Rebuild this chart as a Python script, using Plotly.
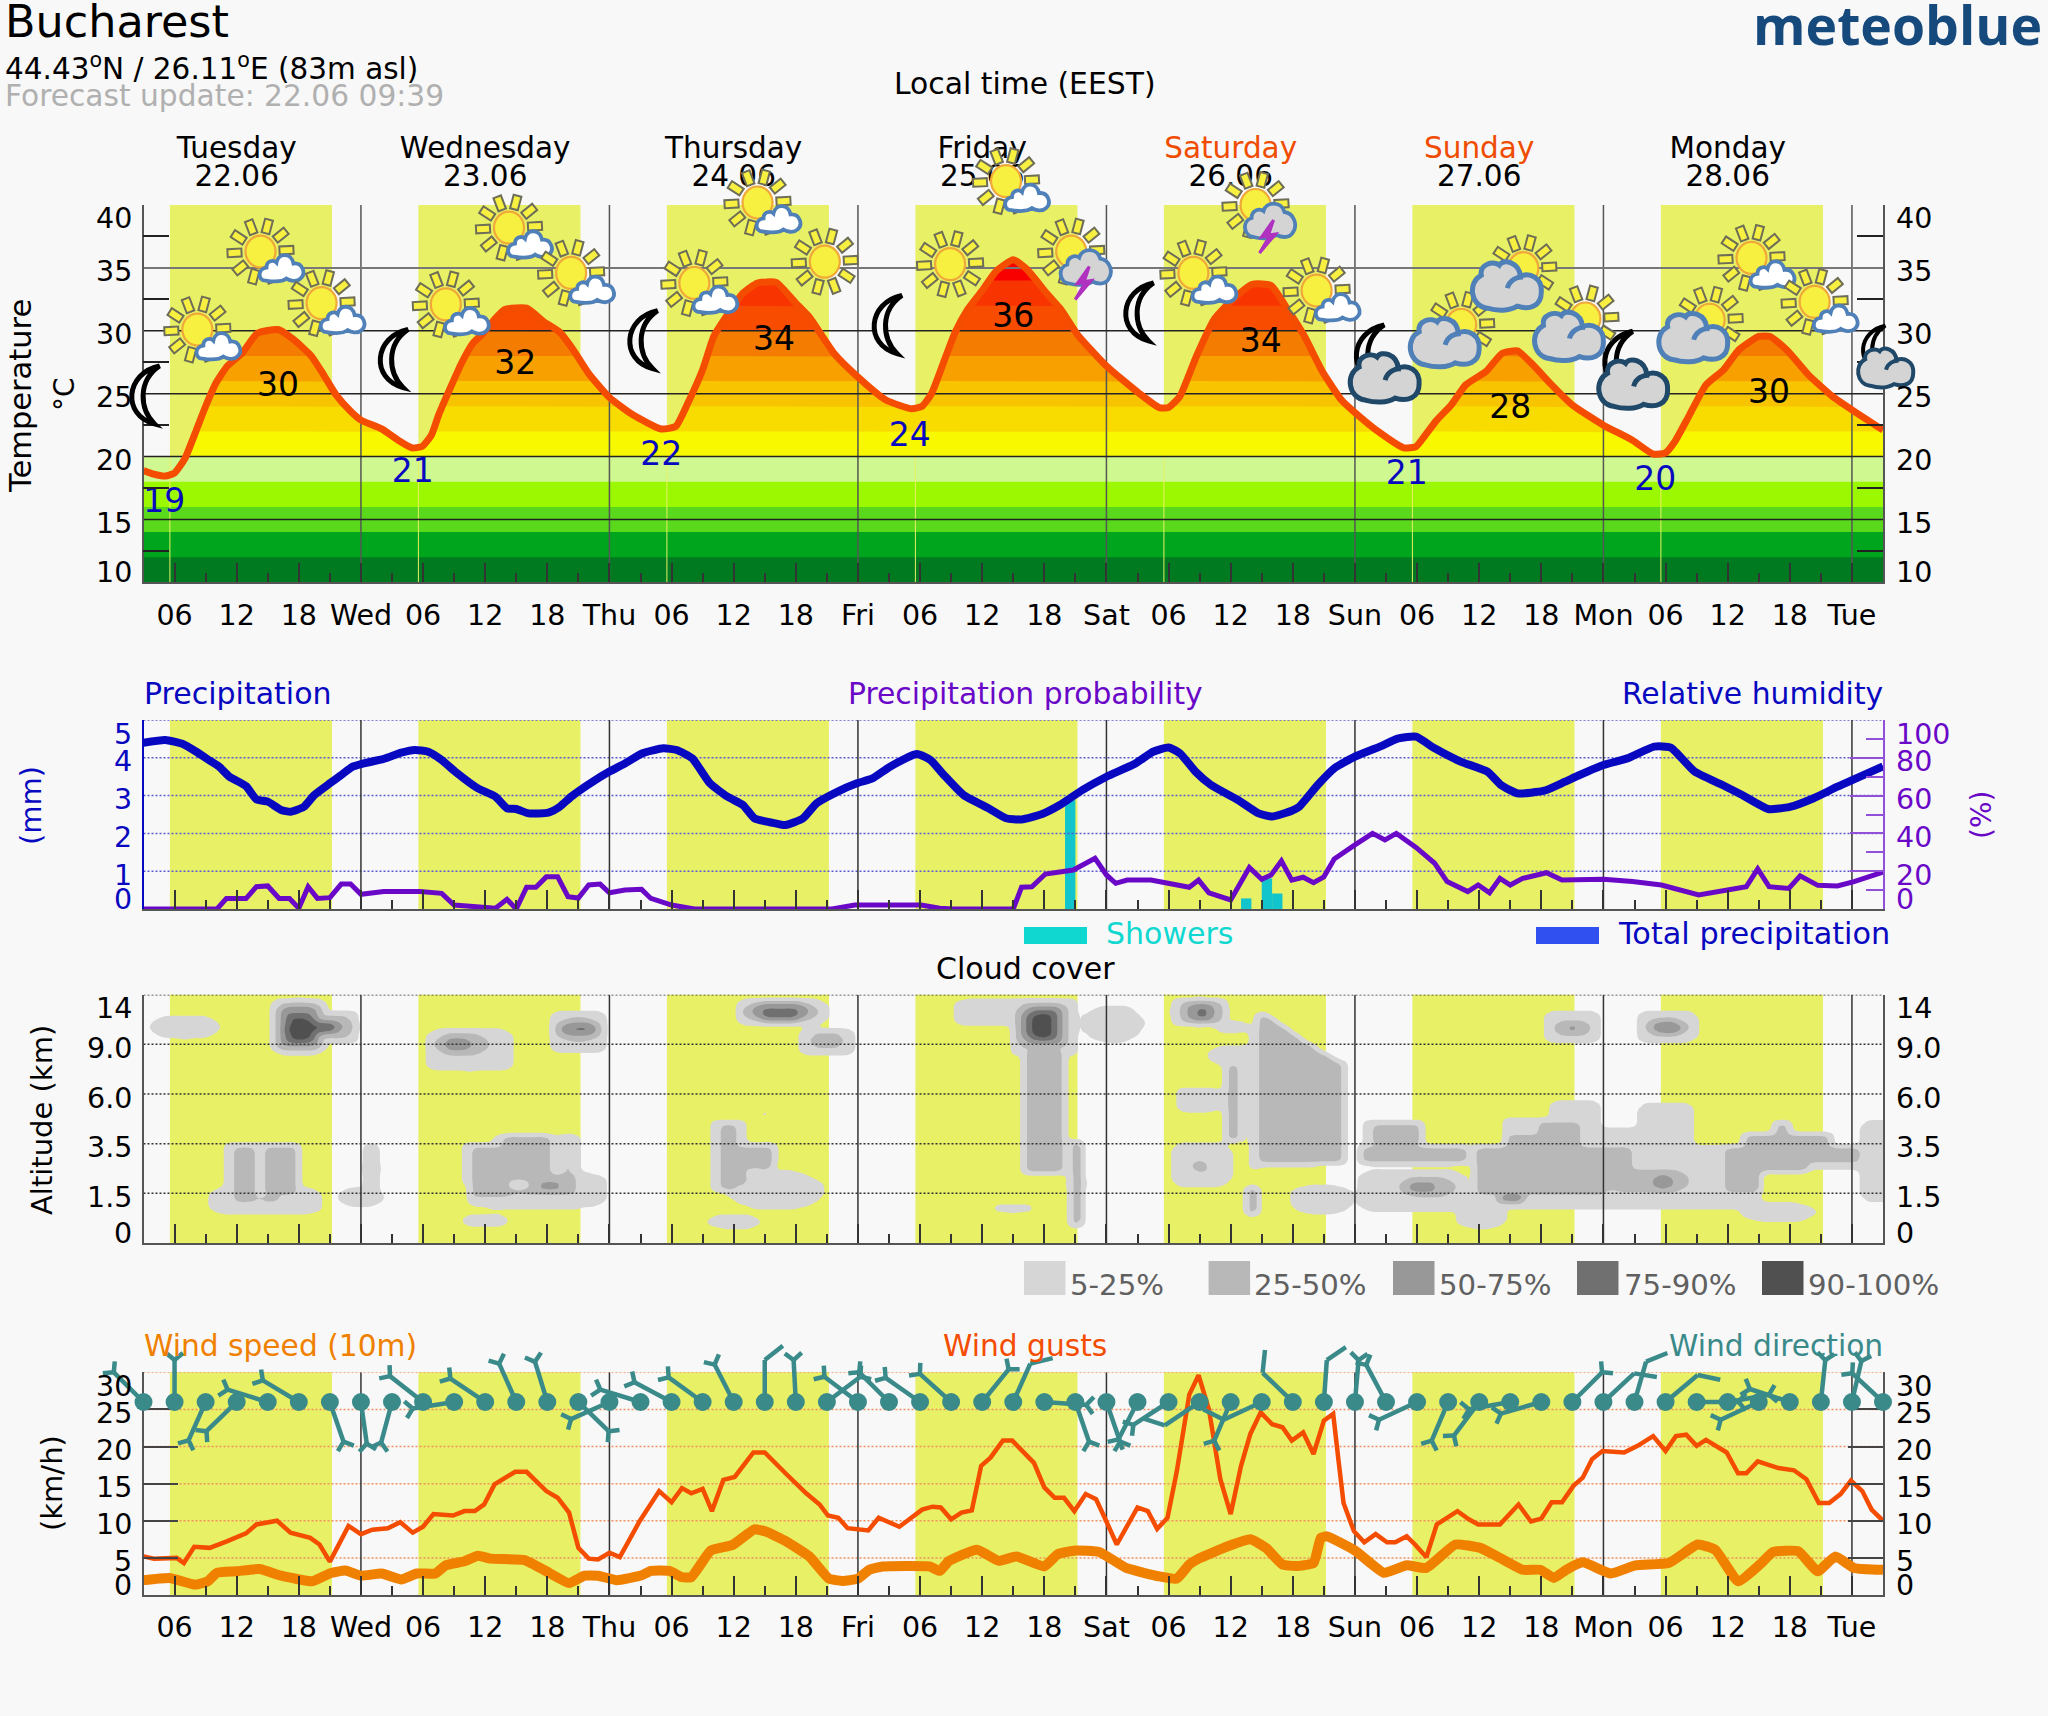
import base64
import numpy as np
import plotly.graph_objects as go

W, H = 2048, 1716
X0, X1 = 143.5, 1883.0
HOUR_MIN, HOUR_MAX = 3, 171
BG = "#f8f8f8"
DAY_YELLOW = "#e8f066"
BLUE = "#0808c0"
PURPLE = "#6a08c8"
ORANGE = "#f08000"
RED = "#f44c00"
TEAL = "#3a8a8a"
FONT = "DejaVu Sans"

SUNRISE = [5.55, 29.55, 53.55, 77.55, 101.55, 125.55, 149.55]
SUNSET = [21.2, 45.2, 69.2, 93.2, 117.2, 141.2, 165.2]
DAY_HOURS = [12, 36, 60, 84, 108, 132, 156]
DAY_NAMES = ["Tuesday", "Wednesday", "Thursday", "Friday", "Saturday", "Sunday", "Monday"]
DAY_DATES = ["22.06", "23.06", "24.06", "25.06", "26.06", "27.06", "28.06"]
DAY_COLORS = ["#000000"] * 4 + ["#f04c00", "#f04c00", "#000000"]
MIDNIGHTS = [24, 48, 72, 96, 120, 144, 168]
MIDNIGHT_NAMES = ["Wed", "Thu", "Fri", "Sat", "Sun", "Mon", "Tue"]

TEMP_H = [3,4,5.1,6,7,8.1,9,10,11.1,12.5,14,16,17.5,19.2,20.4,21.6,23,24,26,27.6,28.9,29.9,30.8,31.5,32.6,33.7,34.8,35.8,37,37.9,40,41.7,43.2,44.5,46,48,50.3,53,54.4,55.6,57,58.1,59.5,60.9,62.3,64.1,66,67.3,69.7,71.9,74.7,77.2,78.2,79.1,80.5,81.4,82.6,84,85.3,87,88.3,90.2,91.6,93.2,96,99.2,101.1,102,103.1,104.7,106.4,108.2,110.1,111.9,113.5,115.1,116.9,118.7,120,122.4,124.7,125.9,126.7,127.9,129.3,130.7,132.7,134.2,135.7,137.3,139,141,144,146.8,148.8,150,150.9,152.3,153.9,155.6,157.1,159,160.1,161.8,163.8,166.1,168.4,171]
TEMP_V = [18.9,18.6,18.45,18.7,19.85,22.1,24,25.85,27.2,28.2,29.8,30.1,29.3,28,26.5,24.9,23.6,22.9,22.2,21.3,20.7,20.8,21.7,23.3,25.4,27.4,29,29.8,31,31.7,31.8,30.7,29.9,28.5,26.6,24.7,23.3,22.2,22.4,24.3,26.9,29.6,31.4,33,33.8,33.85,32.2,31.1,28.2,26.4,24.5,23.8,24,25,28,29.9,31.7,33.2,34.7,35.65,34.9,33,31.7,29.7,27.2,25,23.9,23.9,24.8,28,30.9,32.5,33.7,33.6,31.7,29.6,26.7,24.5,23.5,21.9,20.7,20.8,21.6,22.9,24.1,25.7,26.8,28.2,28.4,27.2,25.7,24.1,22.5,21.3,20.2,20.3,21.2,23.3,25.7,26.9,28.5,29.55,29.55,28.4,26.5,24.8,23.5,22.1]
TEMP_BAND_TOPS = [36, 34, 32, 30, 28, 26, 24, 22, 20, 18, 16, 14, 12]
TEMP_BAND_COLORS = ["#f80000", "#f83400", "#f84c00", "#f47c00", "#f8a000", "#f8c400", "#f8dc00", "#f8f800", "#d0f890", "#9cf800", "#5ad81c", "#00a51e", "#007a20"]
TMAX_H = [16, 38.9, 63.9, 87, 110.9, 135, 160]
TMAX_Y = [25.45, 27.25, 29.15, 30.95, 28.95, 23.75, 24.95]
TMAX_TEXT = ["30", "32", "34", "36", "34", "28", "30"]
TMIN_H = [5, 29, 53, 77, 125, 149]
TMIN_Y = [16.25, 18.6, 19.95, 21.5, 18.45, 18.0]
TMIN_TEXT = ["19", "21", "22", "24", "21", "20"]

HUM_H = [3,5.1,6.8,8.1,9.4,10.3,11.3,12.9,13.9,15,16.3,17.2,18.5,19.5,21,22.1,23.2,24,26.2,27.9,29.2,30.5,31.8,33.1,35.3,37,38.1,39,40.2,42.1,43.2,44.3,46.4,48,49.5,51.2,53.2,54.5,56,57.7,59.4,60.9,62,63.5,65,66.7,68,70,71.9,73.4,75.1,77.7,79,80.3,82.2,84.6,86.3,87.8,89.8,91.5,93.7,96,98.8,100.5,102,103.1,104.6,106.1,108.7,110.7,112,113.9,114.6,116.4,118,120,122.4,124.2,125.9,127.7,130.2,132.8,134.1,135.7,138.3,140.3,141.7,144,146.3,148.9,150.5,152.8,155.5,157.4,159.9,162,164.3,166.6,171]
HUM_V = [88,89.4,87.3,83.2,78.5,75.3,70,65,58,56.8,52.4,51.5,54.1,60.3,66.5,70.9,75.3,76.7,79.4,82.7,84.1,83.2,78.8,72.7,63.8,59.4,53.3,52.9,50.6,51,54.1,59.4,67.4,72.7,77,82.4,85,84.1,79.7,66.5,59.4,55,48,45.9,44.4,48,55.9,62,66.5,69.1,75.3,82,78.8,70.9,60.3,53.3,48,47.4,50.3,55,63,70,77,83.2,85.5,82.4,72.7,65.6,57.7,50.6,48.9,52,54,65.6,74.4,80.6,85.9,90.3,91.2,85,78,72.7,65.6,61.2,62.6,67.4,70.9,76.2,79.7,85.9,85.4,72.7,65.6,60.3,52.9,54,58.6,64.7,75.5]

PROB_H = [3,10.1,11,12.9,13.9,15,16.1,17.1,18,18.9,19.8,21,22.1,23,24,26.2,29.7,31.8,33,35.9,37,38.1,39,40,40.9,41.9,43,44,45,46,47.1,48,49.5,51.1,52,54,56.2,69.5,71.7,78.1,79.9,81.2,87,87.8,88.8,90.1,92.8,94.9,96,96.9,98,100.3,101.8,104,104.9,105.9,108,109.8,111,111.9,112.9,113.9,115,116,117,118,120,121.7,122.9,124,125.9,127.7,128.9,130.9,131.9,133,134,135,136.2,138.5,140,144,146.8,149.6,153.2,156,157.8,158.9,160,161.9,163,164.7,166.6,168.2,171]
PROB_V = [0,0,5.5,5.5,11.8,12.2,5.6,5.6,0.4,11.8,5.6,6,13.2,13.2,7.8,9.3,9.3,8.3,2.1,0.9,0.4,5.1,0,11.5,11.5,17,17,6.5,5.8,12.7,13.2,8.6,10,10.4,5.6,2.1,0,0,2.1,2.1,0.4,0,0,11.5,11.8,18.5,20.6,26.8,18,13.6,15.3,15.3,14,11.5,15.3,8.6,4.8,22,15.7,18,25.4,15.3,16.8,13.9,17,26.5,33.9,40,36.5,40,32.6,24.2,14.5,9.2,12.7,8.6,16.2,12.7,16.2,19.2,15.3,15.7,14.5,12.7,7.4,10.4,11.8,21.2,11.8,10.9,17.5,12.5,12.2,14.5,19.5]

SHOWER_H = [92.5, 109.5, 111.5, 112.5]
SHOWER_MM = [2.88, 0.28, 0.81, 0.41]

ALT_LABELS = ["0", "1.5", "3.5", "6.0", "9.0", "14"]
CLOUD_LEGEND = ["5-25%", "25-50%", "50-75%", "75-90%", "90-100%"]
CLOUD_COLORS = ["#d6d6d6", "#b8b8b8", "#989898", "#707070", "#505050"]
# shape, class, hour from, hour to, level from, level to (levels are the six equally spaced altitudes)
CLOUD_BLOBS = [
 ("O",1,3.5,10.5,4.1,4.6),
 ("S",1,15,21,3.77,4.95),("S",1,20,24,4,4.7),("S",2,15.7,20.4,3.85,4.84),("O",2,19,23.4,4.1,4.6),
 ("S",3,16,20,3.95,4.76),("O",3,18,22.3,4.2,4.5),("S",4,16.6,19.6,4,4.63),("O",4,18,21.6,4.25,4.45),
 ("O",5,16.9,19.5,4.06,4.55),("O",5,18,21.5,4.28,4.4),
 ("S",1,9.2,20.4,0.56,1.13),("B",1,11,18,1,2),("B",2,11.6,13.5,0.83,1.94),("B",2,14.6,17.5,1,1.94),("O",2,13.7,16.5,0.83,0.95),
 ("S",1,24,26,1,2),("B",2,24.6,25.4,1,1.94),("O",1,21.5,26.5,0.72,1.13),
 ("S",1,30,39,3.45,4.33),("O",2,31,36.5,3.75,4.25),("O",3,32,34.8,3.85,4.15),
 ("S",1,42,48,3.82,4.69),("O",2,42.7,47.3,4.05,4.55),("O",3,43.4,46.7,4.15,4.45),("O",4,44,46.3,4.28,4.4),
 ("S",1,34,47.8,0.68,1.44),("B",1,34,45,1.2,2),("B",1,37,45,1.9,2.2),("B",2,34.6,38.5,0.93,1.94),("B",2,37.6,42.5,1.07,2.17),
 ("B",2,38.5,44.8,1,1.4),("B",2,43.6,44.5,1.3,2.17),("O",3,41.3,43.2,1.05,1.25),("O",1,33.5,38.5,0.31,0.58),
 ("S",1,60,69.1,4.35,4.94),("O",2,60.8,68.1,4.42,4.88),("O",3,61.5,67.5,4.47,4.85),("B",4,62.6,66.4,4.55,4.72),
 ("S",1,66,72,3.78,4.33),("O",2,67.3,70.7,3.92,4.23),("O",1,62.2,63.8,2.55,2.66),
 ("B",1,58,61,1.02,2.46),("B",1,61,64,1.6,2),("B",2,58.6,60.4,1.06,2.39),("B",2,60.4,63.5,1.47,1.92),("B",2,58.6,61.2,1.2,1.47),
 ("O",1,59.3,68.8,0.66,1.47),("O",1,57.4,62.7,0.27,0.59),
 ("S",1,81,93,4.35,4.94),("B",1,87,93,3.8,4.94),("B",1,88,92,1.38,3.9),("B",2,88.5,91.5,1.42,3.9),
 ("S",2,87.3,92.4,3.9,4.85),("S",3,87.9,91.9,4,4.76),("S",4,88.4,91.4,4.08,4.7),("S",5,88.8,91,4.13,4.62),
 ("S",1,92,94,0.3,2.1),("B",2,92.6,93.5,0.37,2),("O",1,85,89,0.6,0.8),
 ("O",1,93.6,99.6,4.03,4.8),("O",2,95.4,97.2,4.28,4.4),
 ("S",1,102,108,4.35,4.95),("S",2,103,107.2,4.42,4.88),("S",3,103.8,106.5,4.48,4.82),("B",4,104.6,105.6,4.55,4.72),
 ("O",1,106.4,109.9,4.2,4.5),("O",1,105.8,110.6,3.55,4),("B",1,107.2,109.1,2.04,3.68),("B",2,107.6,108.6,2.1,3.56),
 ("S",1,102.5,107.3,2.64,3.13),("S",1,102.2,108.1,1.1,2.04),("O",2,104.4,105.7,1.4,1.67),
 ("O",1,109,111,0.53,1.19),("B",2,109.6,110.6,0.6,1.13),
 ("O",1,113.5,120,0.56,1.2),("S",1,120.2,130.9,0.6,1.5),("O",2,124.1,130,0.92,1.34),("B",3,125.5,127.7,1.03,1.21),
 ("B",1,120.2,131.2,1.57,1.97),("B",1,121,126.5,1.97,2.48),("B",2,120.7,130.6,1.64,1.94),("B",2,121.7,126.5,1.97,2.4),
 ("S",1,120,159,0.66,1.0),("B",1,131.5,144,0.66,1.97),("B",1,134.4,143.8,1.97,2.54),("S",1,138.6,143.8,2.4,2.87),
 ("B",2,131.7,141.5,1.4,1.94),("B",2,131.7,140,1,1.4),("B",2,134.8,141.5,1.94,2.17),("B",2,137.7,141.5,2.17,2.41),
 ("B",2,139.6,144.1,1,1.94),("B",2,142.5,146.7,1.4,1.94),("S",2,144.1,152.2,1.03,1.47),
 ("O",3,133.8,136.4,0.81,0.98),("O",4,134.3,136,0.86,0.94),("O",3,148.8,151,1.08,1.37),
 ("B",1,144,155.7,0.7,1.97),("B",1,144,152.8,1.9,2.34),("S",1,147.4,152.8,2.2,2.85),
 ("O",1,129.6,134.8,0.28,0.73),("O",1,157.2,164.6,0.41,0.83),
 ("B",1,155.7,159,0.7,1.97),("B",1,155.7,171,1.5,1.97),("B",1,157.2,166,1.97,2.24),("B",1,160.3,162.2,2.2,2.48),
 ("B",2,155.7,168.7,1.64,1.94),("B",2,155.7,163.5,1.44,1.64),("B",2,155.7,159,1.03,1.44),("B",2,157.7,165.6,1.94,2.17),("B",2,160.6,161.6,2.1,2.37),
 ("S",1,168.7,172,0.8,2.5),
 ("S",1,138,144,4.02,4.69),("O",2,139.3,142.8,4.15,4.5),("O",3,140.3,142,4.28,4.38),
 ("S",1,147.2,153.2,4.02,4.69),("O",2,148,152.2,4.15,4.55),("O",3,148.8,151.6,4.22,4.46),("O",4,149.3,151,4.29,4.38),
]
# outlines of the slanted cloud decks: class, hours, levels
CLOUD_POLYS = [
 (1,[109.7,109.7,110.1,111,113,117,119.2,119.2,111],[1.5,3.6,4.6,4.7,4.4,3.8,3.65,1.58,1.5]),
 (2,[110.7,110.7,111.4,118.6,118.6],[1.64,4.6,4.6,3.6,1.64]),
]
# the small clear pocket in Wednesday's low cloud
CLOUD_GAPS = [(1,38.5,40.2,1.07,1.27)]

WIND_H = [3,6,9,12,15,18,21,24,27,30,33,36,39,42,45,48,51,54,57,60,63,66,69,72,75,78,81,84,87,90,93,96,99,102,105,108,111,114,117,120,123,126,129,132,135,138,141,144,147,150,153,156,159,162,165,168,171]
WIND_DIR = [315,0,204,226,287,301,161,172,195,308,261,304,336,343,134,246,287,298,306,333,0,357,53,307,315,305,312,39,24,94,161,161,207,237,236,203,245,314,4,5,332,245,203,217,260,254,45,47,16,50,90,80,245,288,6,13,313]
WIND_STRONG = [63,87,105,111,114,117,144,147,150]
WIND_SPEED_H = [3,5.5,8,9.2,10.1,12,14.2,16.3,19.3,21,22.5,24,26,27.9,29.4,31.2,32.2,34,35.3,36.5,39.8,41.9,44.1,45.6,46.9,48.7,51.1,52,53.8,55,55.9,57.8,59.9,62,63.1,65.1,67.3,69.2,70.5,72,73.1,74.4,78.9,79.9,80.8,83.5,85.6,87.3,90,91.3,93,95.3,97.9,101.1,102.8,104,104.9,107.8,109.9,111.4,113,114.3,116,116.7,117.3,120,122.8,125,126.9,129.7,132.1,134,136.2,137.9,139.2,140.4,142,144.7,147.1,150.3,153.1,154.8,157,159.1,160.4,162.8,164.7,166.4,168.2,171]
WIND_SPEED_V = [2,2.3,1.4,1.85,3,3.2,3.5,2.6,1.85,2.9,3.3,2.6,2.9,2.1,2.9,2.9,4,4.55,5.3,4.9,4.7,3.2,1.6,2.6,2.6,2,2.65,3.25,3.25,2.4,2.4,6,6.75,8.85,8.55,7.2,5.2,2.2,1.9,2.2,3.4,3.85,3.85,3.25,4.6,6.1,4.6,5.2,3.85,5.5,6,5.8,3.65,2.5,2.2,4.1,4.9,6.6,7.5,6.35,4.1,3.9,4.3,7.7,7.9,6,3,4,3.65,6.8,6.35,5,3.4,3.4,2.3,3.4,4.4,2.9,4,4.3,6.8,6.1,1.85,4.1,5.8,5.9,3.2,5.2,3.65,3.4]
GUST_H = [3,4,6.2,6.9,7.9,9.4,11.1,12.9,13.9,15.9,17.2,19.1,20,21,22.8,24,25.1,26.6,27.8,29,30,31,32.9,34,35,35.9,36.9,37.8,38.9,40,41.9,43,44.1,45,46,46.9,48,49,50.9,52.8,54,55,55.9,57,57.9,59,60.1,61.9,63,65,67,68.3,69.1,70.1,71,73,74,76,78.2,79.2,80,81,82,83,83.9,84.8,86,86.9,89,90,91,91.9,92.9,94,95,95.9,97,99,100,100.9,101.9,102.8,104,104.9,105.9,107,108,109,109.9,110.9,112,113,113.9,115,116,117,117.9,118.4,118.9,119.9,120.9,122,123.1,123.9,125,125.8,126.9,127.9,129.9,131,131.9,134,135.8,137,138,139,140,141.1,142,142.9,143.9,146,147.3,148.8,150,151,152,153,153.9,155.9,157,157.8,158.9,160.9,162.4,163.6,164.8,165.8,166.9,167.9,169,169.9,171]
GUST_V = [5.2,4.9,5,4.3,6.5,6.35,7.25,8.3,9.5,10,8.4,7.7,6.8,4.5,9.3,8.2,8.8,9,9.8,8.4,9.2,10.9,10.7,11.3,11.3,12.2,14.9,15.6,16.6,16.6,14,13.1,11.1,6.35,4.9,4.8,5.7,5.1,9.9,14,12.5,14.4,13.7,14.3,11.3,15.5,15.9,19.2,19.2,16.4,13.7,12.2,10.7,10.4,9,8.7,10.4,9.2,11.5,11.9,11.8,10.2,11.1,11.4,17.4,18.5,20.8,20.8,17.8,14.5,13.1,13.1,11.3,13.6,12.9,10.2,6.8,11.8,11.3,8.9,10.4,16.7,27,29.6,25,15.6,10.9,17.4,21.7,24.6,23,22.6,20.8,21.9,19,23.5,24.4,18.3,12.4,8.6,7.1,8.2,7.1,7.1,7.9,6.8,5.1,9.5,11.3,10.2,9.5,9.5,12.2,9.9,10.3,12.5,12.5,14.7,15.8,18.3,19.4,19.2,20.1,21.4,19.4,21.4,21.6,20.1,20.9,19.2,16.4,16.4,18,17.1,16.8,15.6,12.4,12.4,13.6,15.4,14,11.5,10]

ICON_SUNCLOUD = [(8.2,30.1),(14.3,36.3),(20.2,32.2),(32.2,32.1),(38.3,38.2),(44.3,34.6),(56.2,33.8),(62.3,40.2),(86.3,41.9),(104.4,34.6),(116.3,33.2),(158.3,35.8),(164.4,32.3)]
ICON_SUN = [(68.8,35.5),(80.9,35.3)]
ICON_STORM = [(92.6,36.3),(110.4,40)]
ICON_MOON = [(3,24.9),(27,27.8),(51.1,29.3),(74.7,30.5),(99,31.5)]
ICON_MOONCLOUD = [(123.3,27.2),(147.3,26.7)]
ICON_MOONCLOUD_SMALL = [(171.6,27.8)]
ICON_OVERCAST = [(129.1,30),(135.1,34.5),(141.1,30.5),(153.1,30.4)]

P_TEMP = (205.0, 582.4)
P_RAIN = (720.0, 909.0)
P_CLOUD = (994.7, 1243.0)
P_WIND = (1372.3, 1595.0)
P_DAYS = (130.0, 200.0)
P_BARBS = (1320.0, 1480.0)
BARB_X = (100.0, 1930.0)


def fy(px):
    return 1 - px / H


def fx(px):
    return px / W


def dom(p):
    return [fy(p[1]), fy(p[0])]


HOUR_PX = (X1 - X0) / (HOUR_MAX - HOUR_MIN)
TEMP_PX = (P_TEMP[1] - P_TEMP[0]) / 30
WIND_PX = (P_WIND[1] - P_WIND[0]) / 30


def note(x, y, text, size=29, color="#000000", xa="center", ya="middle", xref="paper", yref="paper", angle=0, yshift=0, family=FONT):
    return dict(x=x, y=y, text=text, xref=xref, yref=yref, xanchor=xa, yanchor=ya, showarrow=False, textangle=angle,
                yshift=yshift, borderpad=0, borderwidth=0, font=dict(family=family, size=size, color=color))


def hlines(levels):
    xs, ys = [], []
    for v in levels:
        xs += [HOUR_MIN, HOUR_MAX, None]
        ys += [v, v, None]
    return xs, ys


def vlines(hours, lo, hi):
    xs, ys = [], []
    for h in hours:
        xs += [h, h, None]
        ys += [lo, hi, None]
    return xs, ys


fig = go.Figure()


def line(x, y, xa, ya, color, width, dash=None, clip=True, smooth=None):
    style = dict(color=color, width=width, dash=dash)
    if smooth:
        style.update(shape="spline", smoothing=smooth)
    fig.add_trace(go.Scatter(x=x, y=y, xaxis=xa, yaxis=ya, mode="lines", hoverinfo="skip", showlegend=False, cliponaxis=clip, line=style))


# ---- temperature
dense_h = np.arange(HOUR_MIN, HOUR_MAX + 0.01, 0.1)
dense_t = np.interp(dense_h, TEMP_H, TEMP_V)
for top, col in zip(TEMP_BAND_TOPS, TEMP_BAND_COLORS):
    y = np.full_like(dense_h, top, dtype=float) if top <= 20 else np.minimum(dense_t, top)
    fig.add_trace(go.Scatter(x=dense_h, y=y, xaxis="x", yaxis="y", mode="lines", fill="tozeroy", fillcolor=col, hoverinfo="skip",
                             showlegend=False, line=dict(width=0)))
x_, y_ = vlines(SUNRISE, 10, 20)
line(x_, y_, "x", "y", "#e8f066", 1)
x_, y_ = vlines(MIDNIGHTS, 10, 40)
line(x_, y_, "x", "y", "#555555", 1.5)
x_, y_ = hlines([15, 20, 25, 30])
line(x_, y_, "x", "y", "#222222", 1.5)
x_, y_ = hlines([35])
line(x_, y_, "x", "y", "#777777", 2)
line(TEMP_H, TEMP_V, "x", "y", RED, 7, smooth=0.5)
fig.add_trace(go.Scatter(x=TMAX_H, y=TMAX_Y, text=TMAX_TEXT, xaxis="x", yaxis="y", mode="text", hoverinfo="skip", showlegend=False,
                         textfont=dict(family=FONT, size=33, color="#000000")))
fig.add_trace(go.Scatter(x=TMIN_H, y=TMIN_Y, text=TMIN_TEXT, xaxis="x", yaxis="y", mode="text", hoverinfo="skip", showlegend=False,
                         textfont=dict(family=FONT, size=33, color=BLUE)))
row1 = (P_DAYS[1] - 151) / (P_DAYS[1] - P_DAYS[0])
row2 = (P_DAYS[1] - 179) / (P_DAYS[1] - P_DAYS[0])
fig.add_trace(go.Scatter(x=DAY_HOURS, y=[row1] * 7, text=DAY_NAMES, xaxis="x", yaxis="y6", mode="text", hoverinfo="skip", showlegend=False,
                         textfont=dict(family=FONT, size=29.5, color=DAY_COLORS)))
fig.add_trace(go.Scatter(x=DAY_HOURS, y=[row2] * 7, text=DAY_DATES, xaxis="x", yaxis="y6", mode="text", hoverinfo="skip", showlegend=False,
                         textfont=dict(family=FONT, size=29.5, color="#000000")))

# ---- precipitation
fig.add_trace(go.Bar(x=SHOWER_H, y=SHOWER_MM, width=1, xaxis="x2", yaxis="y2", marker=dict(color="#12c4cc", line=dict(width=0)), hoverinfo="skip", showlegend=False))
x_, y_ = hlines([1, 2, 3, 4, 5])
line(x_, y_, "x2", "y2", "#5a5ad0", 1.5, "2px,2px", clip=False)
x_, y_ = vlines(MIDNIGHTS, 0, 5)
line(x_, y_, "x2", "y2", "#333333", 1.5)
line(PROB_H, PROB_V, "x2", "y3", PURPLE, 5, clip=False)
line(HUM_H, HUM_V, "x2", "y3", BLUE, 8, clip=False, smooth=0.5)

# ---- clouds
cl_h = np.arange(HOUR_MIN, HOUR_MAX + 0.01, 0.5)
cl_l = np.arange(0, 5.001, 0.05)
HH, LL = np.meshgrid(cl_h, cl_l)
cloud = np.zeros_like(HH)
for kind, c, h0, h1, l0, l1 in CLOUD_BLOBS:
    u = (HH - (h0 + h1) / 2) / ((h1 - h0) / 2)
    v = (LL - (l0 + l1) / 2) / ((l1 - l0) / 2)
    if kind == "B":
        mask = (np.abs(u) <= 1) & (np.abs(v) <= 1)
    elif kind == "S":
        mask = u ** 4 + v ** 4 <= 1
    else:
        mask = u ** 2 + v ** 2 <= 1
    cloud[mask] = np.maximum(cloud[mask], c)
for c, ph, pl in CLOUD_POLYS:
    inside = np.zeros_like(HH, dtype=bool)
    n = len(ph)
    for i in range(n):
        a, b = (ph[i], pl[i]), (ph[(i + 1) % n], pl[(i + 1) % n])
        if a[1] == b[1]:
            continue
        cross = (a[1] > LL) != (b[1] > LL)
        xc = a[0] + (LL - a[1]) * (b[0] - a[0]) / (b[1] - a[1])
        inside ^= cross & (HH < xc)
    cloud[inside] = np.maximum(cloud[inside], c)
for c, h0, h1, l0, l1 in CLOUD_GAPS:
    cloud[(HH >= h0) & (HH <= h1) & (LL >= l0) & (LL <= l1)] = c


# soften the painted outlines so that corners round off as the contours of the original do
def soften(z, kernel, axis):
    kernel = np.array(kernel, dtype=float) / sum(kernel)
    pad = len(kernel) // 2
    widths = [(pad, pad) if a == axis else (0, 0) for a in range(2)]
    return np.apply_along_axis(lambda m: np.convolve(m, kernel, mode="valid"), axis, np.pad(z, widths, mode="edge"))


cloud = soften(soften(cloud, [1, 2, 1], 1), [1, 2, 3, 2, 1], 0)
fig.add_trace(go.Contour(x=cl_h, y=cl_l, z=np.round(cloud, 2).tolist(), xaxis="x3", yaxis="y4", showscale=False, hoverinfo="skip",
                         autocontour=False, contours=dict(start=0.5, end=4.5, size=1, coloring="fill", showlines=False),
                         line=dict(width=0),
                         colorscale=[[0, "rgba(248,248,248,0)"]] + [[(i + 1) / 5, c] for i, c in enumerate(CLOUD_COLORS)]))
x_, y_ = hlines([1, 2, 3, 4, 5])
line(x_, y_, "x3", "y4", "#333333", 1.5, "2px,2px", clip=False)
x_, y_ = vlines(MIDNIGHTS, 0, 5)
line(x_, y_, "x3", "y4", "#333333", 1.5)

# ---- wind
x_, y_ = hlines([5, 10, 15, 20, 25, 30])
line(x_, y_, "x4", "y5", "#f09060", 1.5, "2px,2px")
x_, y_ = vlines(MIDNIGHTS, 0, 30)
line(x_, y_, "x4", "y5", "#333333", 1.5)
line(WIND_SPEED_H, WIND_SPEED_V, "x4", "y5", ORANGE, 10, smooth=0.4)
line(GUST_H, GUST_V, "x4", "y5", RED, 4.5)
WIND_DOT = 26
STAFF, PRONG, HOOK = 42, 11, 23
bx, by = [], []
for h, d in zip(WIND_H, WIND_DIR):
    rad = np.radians(d)
    tx = h + STAFF * np.sin(rad) / HOUR_PX
    ty = WIND_DOT + STAFF * np.cos(rad) / WIND_PX
    bx += [h, tx, None]
    by += [WIND_DOT, ty, None]
    if h in WIND_STRONG:
        a = np.radians(d + 52)
        bx += [tx, tx + HOOK * np.sin(a) / HOUR_PX, None]
        by += [ty, ty + HOOK * np.cos(a) / WIND_PX, None]
    else:
        for off in (-50, 50):
            a = np.radians(d + off)
            bx += [tx, tx + PRONG * np.sin(a) / HOUR_PX, None]
            by += [ty, ty + PRONG * np.cos(a) / WIND_PX, None]
line(bx, by, "x5", "y7", TEAL, 4.5)
fig.add_trace(go.Scatter(x=WIND_H, y=[WIND_DOT] * len(WIND_H), xaxis="x5", yaxis="y7", mode="markers", hoverinfo="skip", showlegend=False,
                         marker=dict(size=18, color=TEAL, line=dict(width=0))))


# ---- axes
def xaxis(anchor, labels):
    major = [h for h in range(6, 169, 6)]
    text = []
    for h in major:
        text.append(MIDNIGHT_NAMES[h // 24 - 1] if h % 24 == 0 else f"{h % 24:02d}")
    return dict(domain=[fx(X0), fx(X1)], range=[HOUR_MIN, HOUR_MAX], anchor=anchor, showgrid=False, zeroline=False, fixedrange=True,
                tickmode="array", tickvals=major, ticktext=text, showticklabels=labels, ticks="inside", ticklen=19, tickwidth=1.5, tickcolor="#333333",
                minor=dict(tickmode="array", tickvals=list(range(3, 169, 6)), ticks="inside", ticklen=9, tickwidth=1.5, tickcolor="#333333", showgrid=False),
                tickfont=dict(family=FONT, size=28.5, color="#000000"), ticklabelstandoff=6, tickangle=0,
                showline=True, linecolor="#555555", linewidth=2)


def yaxis(p, rng, **kw):
    d = dict(domain=dom(p), range=rng, anchor=kw.pop("anchor"), showgrid=False, zeroline=False, fixedrange=True, showticklabels=False, ticks="",
             showline=True, linecolor="#555555", linewidth=1.5)
    d.update(kw)
    return d


shapes = []
for panel, yr in ((P_TEMP, "y"), (P_RAIN, "y2"), (P_CLOUD, "y4"), (P_WIND, "y5")):
    xr = {"y": "x", "y2": "x2", "y4": "x3", "y5": "x4"}[yr]
    for a, b in zip(SUNRISE, SUNSET):
        shapes.append(dict(type="rect", xref=xr, yref=f"{yr} domain", x0=a, x1=b, y0=0, y1=1, fillcolor=DAY_YELLOW, line=dict(width=0), layer="below"))


def swatch(x0, x1, y0, y1, color):
    shapes.append(dict(type="rect", xref="paper", yref="paper", x0=fx(x0), x1=fx(x1), y0=fy(y1), y1=fy(y0), fillcolor=color, line=dict(width=0)))


swatch(1024, 1087, 927, 944, "#10d8d0")
swatch(1536, 1599, 927, 944, "#3050f0")
CLOUD_SWATCH_X = [1024, 1208.6, 1393, 1577, 1762]
CLOUD_TEXT_X = [1070, 1254, 1439, 1624, 1807.5]
for x0, col in zip(CLOUD_SWATCH_X, CLOUD_COLORS):
    swatch(x0, x0 + 41.5, 1261, 1295, col)

ann = [
    note(fx(5), fy(22), "Bucharest", 44.5, xa="left"),
    note(fx(5), fy(67), "44.43<sup>o</sup>N / 26.11<sup>o</sup>E (83m asl)", 29.5, xa="left"),
    note(fx(5), fy(96), "Forecast update: 22.06 09:39", 29.7, "#b0b0b0", xa="left"),
    note(fx(1025), fy(83), "Local time (EEST)", 29.8),
    note(fx(2042), fy(25), "<b>meteoblue</b>", 53.5, "#174a7c", xa="right", family="Open Sans"),
    note(fx(20), fy(396), "Temperature", 30.5, angle=-90),
    note(fx(64), fy(394), "°C", 28, angle=-90),
    note(fx(31), fy(806), "(mm)", 29, BLUE, angle=-90),
    note(fx(1981), fy(815), "(%)", 28, PURPLE, angle=-90),
    note(fx(42), fy(1120), "Altitude (km)", 29, angle=-90),
    note(fx(52), fy(1483), "(km/h)", 29, angle=-90),
    note(fx(144), fy(693), "Precipitation", 30, BLUE, xa="left"),
    note(fx(1025), fy(693), "Precipitation probability", 29.8, PURPLE),
    note(fx(1883), fy(693), "Relative humidity", 29.8, BLUE, xa="right"),
    note(fx(1106), fy(933), "Showers", 30, "#10d8d0", xa="left"),
    note(fx(1618), fy(933), "Total precipitation", 30.3, BLUE, xa="left"),
    note(fx(1025), fy(968), "Cloud cover", 30),
    note(fx(144), fy(1345), "Wind speed (10m)", 29.7, ORANGE, xa="left"),
    note(fx(1025), fy(1345), "Wind gusts", 29.7, RED),
    note(fx(1883), fy(1345), "Wind direction", 29.7, TEAL, xa="right"),
]
for x0, t in zip(CLOUD_TEXT_X, CLOUD_LEGEND):
    ann.append(note(fx(x0), fy(1285), t, 29.2, "#606060", xa="left"))


def ylabels(yref, vals, texts, color="#000000", side="both", color_r=None):
    n = len(vals)
    for i, (v, t) in enumerate(zip(vals, texts)):
        s = 10 if i == 0 else (-14 if i == n - 1 else -4)
        if side in ("both", "left"):
            ann.append(note(fx(132), v, t, 28.5, color, xa="right", yref=yref, yshift=s))
        if side in ("both", "right"):
            ann.append(note(fx(1896), v, t, 28.5, color_r or color, xa="left", yref=yref, yshift=s))


ylabels("y", [10, 15, 20, 25, 30, 35, 40], ["10", "15", "20", "25", "30", "35", "40"])
ylabels("y2", [0, 1, 2, 3, 4, 5], ["0", "1", "2", "3", "4", "5"], BLUE, "left")
ylabels("y3", [0, 20, 40, 60, 80, 100], ["0", "20", "40", "60", "80", "100"], PURPLE, "right")
ylabels("y4", [0, 1, 2, 3, 4, 5], ALT_LABELS)
ylabels("y5", [0, 5, 10, 15, 20, 25, 30], ["0", "5", "10", "15", "20", "25", "30"])


# ---- weather icons
def rays(r0=19, r1=33):
    out = ""
    for i in range(10):
        ang = 15 + 36 * i
        out += f'<rect x="-4" y="{-r1}" width="8" height="{r1 - r0}" transform="rotate({ang})" fill="#f8f040" stroke="#6e6e58" stroke-width="2"/>'
    return out


SUN = rays() + '<ellipse cx="0" cy="0" rx="15" ry="16" fill="#f8f040" stroke="#f0a838" stroke-width="2.2"/>'
SMALL_CLOUD = '<path d="M5,29 C-3,29 -3,17 6,16 C6,9 13,8 16,11 C18,1 31,1 33,12 C42,11 46,22 40,27 C36,31 29,29 26,27 C21,31 11,30 5,29 Z" fill="#ffffff" stroke="#5080b8" stroke-width="3.8"/>'
STORM_CLOUD = '<path d="M-2,32 C-12,31 -14,16 -4,13 C-4,5 4,3 8,6 C11,-4 26,-4 29,7 C38,8 43,20 37,28 C33,34 25,32 21,30 C15,34 5,34 -2,32 Z" fill="#d4d4d4" stroke="#5080b8" stroke-width="3.8"/>'
BOLT = '<path d="M18,15 L6,32 L14,31 L4,48 L20,29 L13,30 Z" fill="#b030c0" stroke="#b030c0" stroke-width="3"/>'
CLOUD_BODY = ('<path d="M-24,34 C-41,32 -44,8 -30,1 C-32,-10 -18,-14 -12,-9 C-8,-16 8,-12 9,2 C19,-2 31,4 30,18 C30,32 18,36 6,32 C-2,37 -14,37 -24,34 Z" '
              'fill="#d4d4d4" stroke="{c}" stroke-width="5"/><path d="M-4,14 C-2,6 6,2 12,3" fill="none" stroke="{c}" stroke-width="5"/>')
MOON = '<path d="M16,-29 C-18,-22 -22,20 11,29 C-4,14 -6,-14 16,-29 Z" fill="#f8f8f8" stroke="#000000" stroke-width="5"/>'


def svg_uri(body, size=110):
    s = (f'<svg xmlns="http://www.w3.org/2000/svg" width="{size}" height="{size}" viewBox="0 0 110 110" preserveAspectRatio="none">'
         f'<g transform="translate(55,55)">{body}</g></svg>')
    return "data:image/svg+xml;base64," + base64.b64encode(s.encode()).decode()


def place(items, body, size=110):
    uri = svg_uri(body, size)
    out = []
    for h, t in items:
        px = X0 + (h - HOUR_MIN) * HOUR_PX
        py = P_TEMP[0] + (40 - t) * TEMP_PX
        out.append(dict(source=uri, xref="paper", yref="paper", x=fx(px), y=fy(py), sizex=size / W, sizey=size / H,
                        xanchor="center", yanchor="middle", sizing="stretch", layer="above"))
    return out


images = []
images += place(ICON_SUNCLOUD, SUN + SMALL_CLOUD)
images += place(ICON_SUN, SUN)
images += place(ICON_STORM, SUN + STORM_CLOUD + BOLT)
images += place(ICON_MOON, MOON)
images += place(ICON_MOONCLOUD, f'<g transform="translate(-21,-12)">{MOON}</g>' + CLOUD_BODY.format(c="#204868"))
images += place(ICON_MOONCLOUD_SMALL, f'<g transform="translate(-21,-12)">{MOON}</g>' + CLOUD_BODY.format(c="#204868"), 88)
images += place(ICON_OVERCAST, f'<g transform="translate(12,-6)">{rays()}<ellipse rx="15" ry="16" fill="#f8f040" stroke="#f0a838" stroke-width="2.2"/></g>' + CLOUD_BODY.format(c="#5080b8"))

barb_hours = [HOUR_MIN + (p - X0) / HOUR_PX for p in BARB_X]
barb_kmh = [(P_WIND[1] - p) / WIND_PX for p in (P_BARBS[1], P_BARBS[0])]

fig.update_layout(
    width=W, height=H, autosize=False, margin=dict(l=0, r=0, t=0, b=0, pad=0),
    paper_bgcolor=BG, plot_bgcolor="rgba(0,0,0,0)", showlegend=False, hovermode=False, barmode="overlay",
    xaxis=xaxis("y", True),
    xaxis2=xaxis("y2", False),
    xaxis3=xaxis("y4", False),
    xaxis4=xaxis("y5", True),
    xaxis5=dict(domain=[fx(BARB_X[0]), fx(BARB_X[1])], range=barb_hours, anchor="y7", visible=False, fixedrange=True),
    yaxis=yaxis(P_TEMP, [10, 40], anchor="x", mirror="ticks",
                minor=dict(tickmode="array", tickvals=[12.5, 17.5, 22.5, 27.5, 32.5, 37.5], ticks="inside", ticklen=26, tickwidth=1.5, tickcolor="#222222", showgrid=False)),
    yaxis2=yaxis(P_RAIN, [0, 5], anchor="x2", linecolor=BLUE),
    yaxis3=yaxis(P_RAIN, [0, 100], anchor="x2", overlaying="y2", side="right", linecolor="#9050d8",
                 tickmode="array", tickvals=[20, 40, 60, 80], ticks="inside", ticklen=33, tickwidth=1.5, tickcolor="#9050d8",
                 minor=dict(tickmode="array", tickvals=[10, 30, 50, 70, 90], ticks="inside", ticklen=17, tickwidth=1.5, tickcolor="#9050d8", showgrid=False)),
    yaxis4=yaxis(P_CLOUD, [0, 5], anchor="x3", mirror=True),
    yaxis5=yaxis(P_WIND, [0, 30], anchor="x4", mirror="ticks",
                 tickmode="array", tickvals=[5, 10, 15, 20, 25, 30], ticks="inside", ticklen=35, tickwidth=1.5, tickcolor="#444444"),
    yaxis6=dict(domain=dom(P_DAYS), range=[0, 1], anchor="x", visible=False, fixedrange=True),
    yaxis7=dict(domain=dom(P_BARBS), range=barb_kmh, anchor="x5", visible=False, fixedrange=True),
    shapes=shapes, annotations=ann, images=images,
)

fig.write_html("out.html", config={"displayModeBar": False}, post_script="document.body.style.margin='0';document.body.style.background='#f8f8f8';")
